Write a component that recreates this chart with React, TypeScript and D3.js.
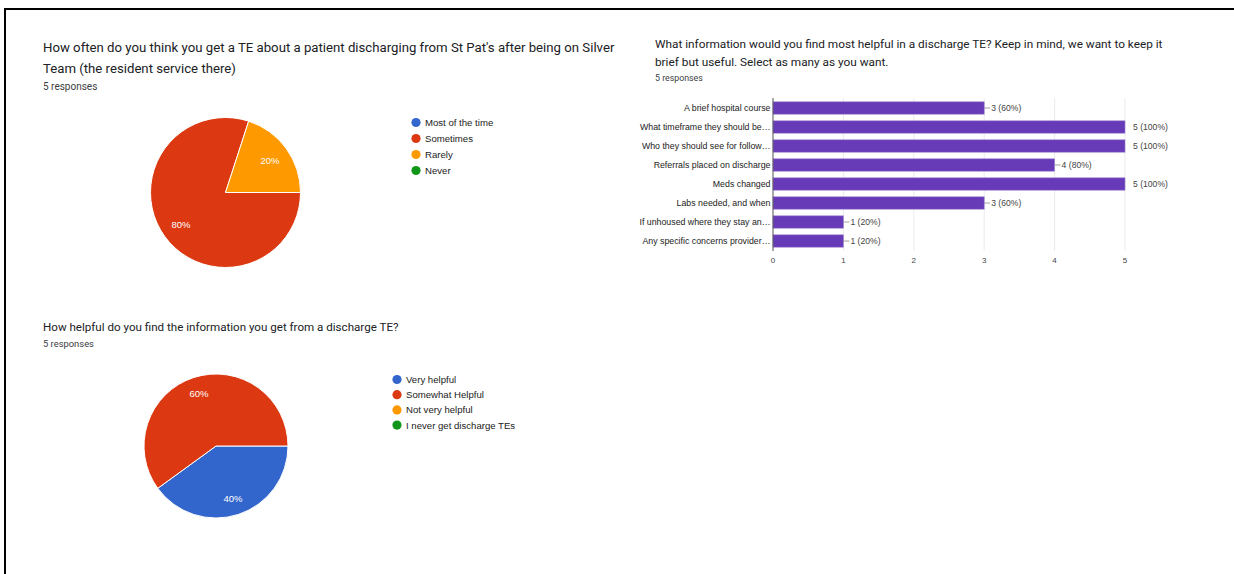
import React from "react";
import * as d3 from "d3";

// ---- Data ----
const q1Title = [
  "How often do you think you get a TE about a patient discharging from St Pat's after being on Silver",
  "Team (the resident service there)",
];
const q1Labels = ["Most of the time", "Sometimes", "Rarely", "Never"];
const q1Values = [0, 4, 1, 0];

const q2Title = [
  "What information would you find most helpful in a discharge TE? Keep in mind, we want to keep it",
  "brief but useful. Select as many as you want.",
];
const q2Categories = [
  "A brief hospital course",
  "What timeframe they should be…",
  "Who they should see for follow…",
  "Referrals placed on discharge",
  "Meds changed",
  "Labs needed, and when",
  "If unhoused where they stay an…",
  "Any specific concerns provider…",
];
const q2Values = [3, 5, 5, 4, 5, 3, 1, 1];
const q2Ticks = [0, 1, 2, 3, 4, 5];

const q3Title = ["How helpful do you find the information you get from a discharge TE?"];
const q3Labels = ["Very helpful", "Somewhat Helpful", "Not very helpful", "I never get discharge TEs"];
const q3Values = [2, 3, 0, 0];

const totalResponses = 5;
const pieColors = ["#3366cc", "#dc3912", "#ff9900", "#109618"];
const barColor = "#673ab7";

const FONT = "Roboto, 'Noto Sans', Arial, sans-serif";
const CHART_FONT = "Arial, 'Liberation Sans', sans-serif";

function Pie({ cx, cy, r, values, labelR }: { cx: number; cy: number; r: number; values: number[]; labelR: number }) {
  const total = d3.sum(values);
  const pie = d3
    .pie<number>()
    .sort(null)
    .startAngle(Math.PI / 2)
    .endAngle(Math.PI / 2 + 2 * Math.PI)
    .value((d) => d);
  const arcs = pie(values);
  const arc = d3.arc<d3.PieArcDatum<number>>().innerRadius(0).outerRadius(r);
  const lab = d3.arc<d3.PieArcDatum<number>>().innerRadius(labelR).outerRadius(labelR);
  return (
    <g transform={`translate(${cx},${cy})`}>
      {arcs.map((a, i) =>
        a.value > 0 ? <path key={i} d={arc(a) || ""} fill={pieColors[i]} stroke="#fff" strokeWidth={1} /> : null
      )}
      {arcs.map((a, i) => {
        if (a.value <= 0) return null;
        const [x, y] = lab.centroid(a);
        return (
          <text key={"t" + i} x={x} y={y + 3.5} textAnchor="middle" fontSize={9.5} fill="#fff" fontFamily={CHART_FONT}>
            {Math.round((a.value / total) * 100)}%
          </text>
        );
      })}
    </g>
  );
}

function Legend({ x, y, labels, step, size }: { x: number; y: number; labels: string[]; step: number; size: number }) {
  return (
    <g>
      {labels.map((l, i) => (
        <g key={i}>
          <circle cx={x} cy={y + i * step} r={4.6} fill={pieColors[i]} />
          <text x={x + 9} y={y + i * step + 3.4} fontSize={size} fill="#222" fontFamily={CHART_FONT}>
            {l}
          </text>
        </g>
      ))}
    </g>
  );
}

function Title({
  x,
  y,
  lines,
  size,
  lh,
  respY,
  respSize,
}: {
  x: number;
  y: number;
  lines: string[];
  size: number;
  lh: number;
  respY: number;
  respSize: number;
}) {
  return (
    <g fontFamily={FONT}>
      {lines.map((l, i) => (
        <text key={i} x={x} y={y + i * lh} fontSize={size} fill="#202124">
          {l}
        </text>
      ))}
      <text x={x} y={respY} fontSize={respSize} fill="#3c4043">
        {totalResponses} responses
      </text>
    </g>
  );
}

function Bars() {
  const x = d3.scaleLinear().domain([0, 5]).range([773, 1125]);
  const y = d3.scaleBand<string>().domain(q2Categories).range([98.5, 250.5]).paddingInner(0.35).paddingOuter(0.175);
  const top = 98;
  const bottom = 251;
  return (
    <g fontFamily={CHART_FONT}>
      {q2Ticks.map((t) => (
        <g key={t}>
          {t > 0 && <line x1={x(t)} x2={x(t)} y1={top} y2={bottom} stroke="#ebebeb" strokeWidth={1} />}
          <text x={x(t)} y={263} fontSize={8} fill="#444" textAnchor="middle">
            {t}
          </text>
        </g>
      ))}
      {q2Categories.map((c, i) => {
        const v = q2Values[i];
        const yc = (y(c) as number) + y.bandwidth() / 2;
        const pct = Math.round((v / totalResponses) * 100);
        const full = v === 5;
        return (
          <g key={c}>
            <rect
              x={x(0)}
              y={y(c)}
              width={x(v) - x(0)}
              height={y.bandwidth()}
              fill={barColor}
              stroke="#9b7fd1"
              strokeWidth={0.6}
            />
            <text x={770.5} y={yc + 3} fontSize={8.8} fill="#222" textAnchor="end">
              {c}
            </text>
            {full ? (
              <text x={x(v) + 8} y={yc + 3} fontSize={8.6} fill="#444">
                {v} ({pct}%)
              </text>
            ) : (
              <g>
                <line x1={x(v)} x2={x(v) + 6} y1={yc} y2={yc} stroke="#888" strokeWidth={0.8} />
                <text x={x(v) + 7} y={yc + 3} fontSize={8.6} fill="#444">
                  {v} ({pct}%)
                </text>
              </g>
            )}
          </g>
        );
      })}
      <line x1={x(0)} x2={x(0)} y1={top} y2={bottom} stroke="#555" strokeWidth={1} />
    </g>
  );
}

export default function App() {
  return (
    <svg width={1234} height={574} style={{ position: "absolute", left: 0, top: 0, background: "#fff" }}>
      <rect x={0} y={0} width={1234} height={574} fill="#fff" />
      <rect x={5} y={9} width={1300} height={700} fill="none" stroke="#000" strokeWidth={2} />
      <Title x={43} y={52} lines={q1Title} size={13.2} lh={20.5} respY={89.5} respSize={10} />
      <Pie cx={225.5} cy={192.5} r={75} values={q1Values} labelR={55} />
      <Legend x={416} y={122.5} labels={q1Labels} step={16} size={9.6} />

      <Title x={655} y={48} lines={q2Title} size={11.8} lh={18} respY={81} respSize={8.8} />
      <Bars />

      <Title x={43} y={331} lines={q3Title} size={11.6} lh={17} respY={347} respSize={9.4} />
      <Pie cx={216} cy={446} r={72} values={q3Values} labelR={55} />
      <Legend x={397} y={379.5} labels={q3Labels} step={15.2} size={9.6} />
    </svg>
  );
}
